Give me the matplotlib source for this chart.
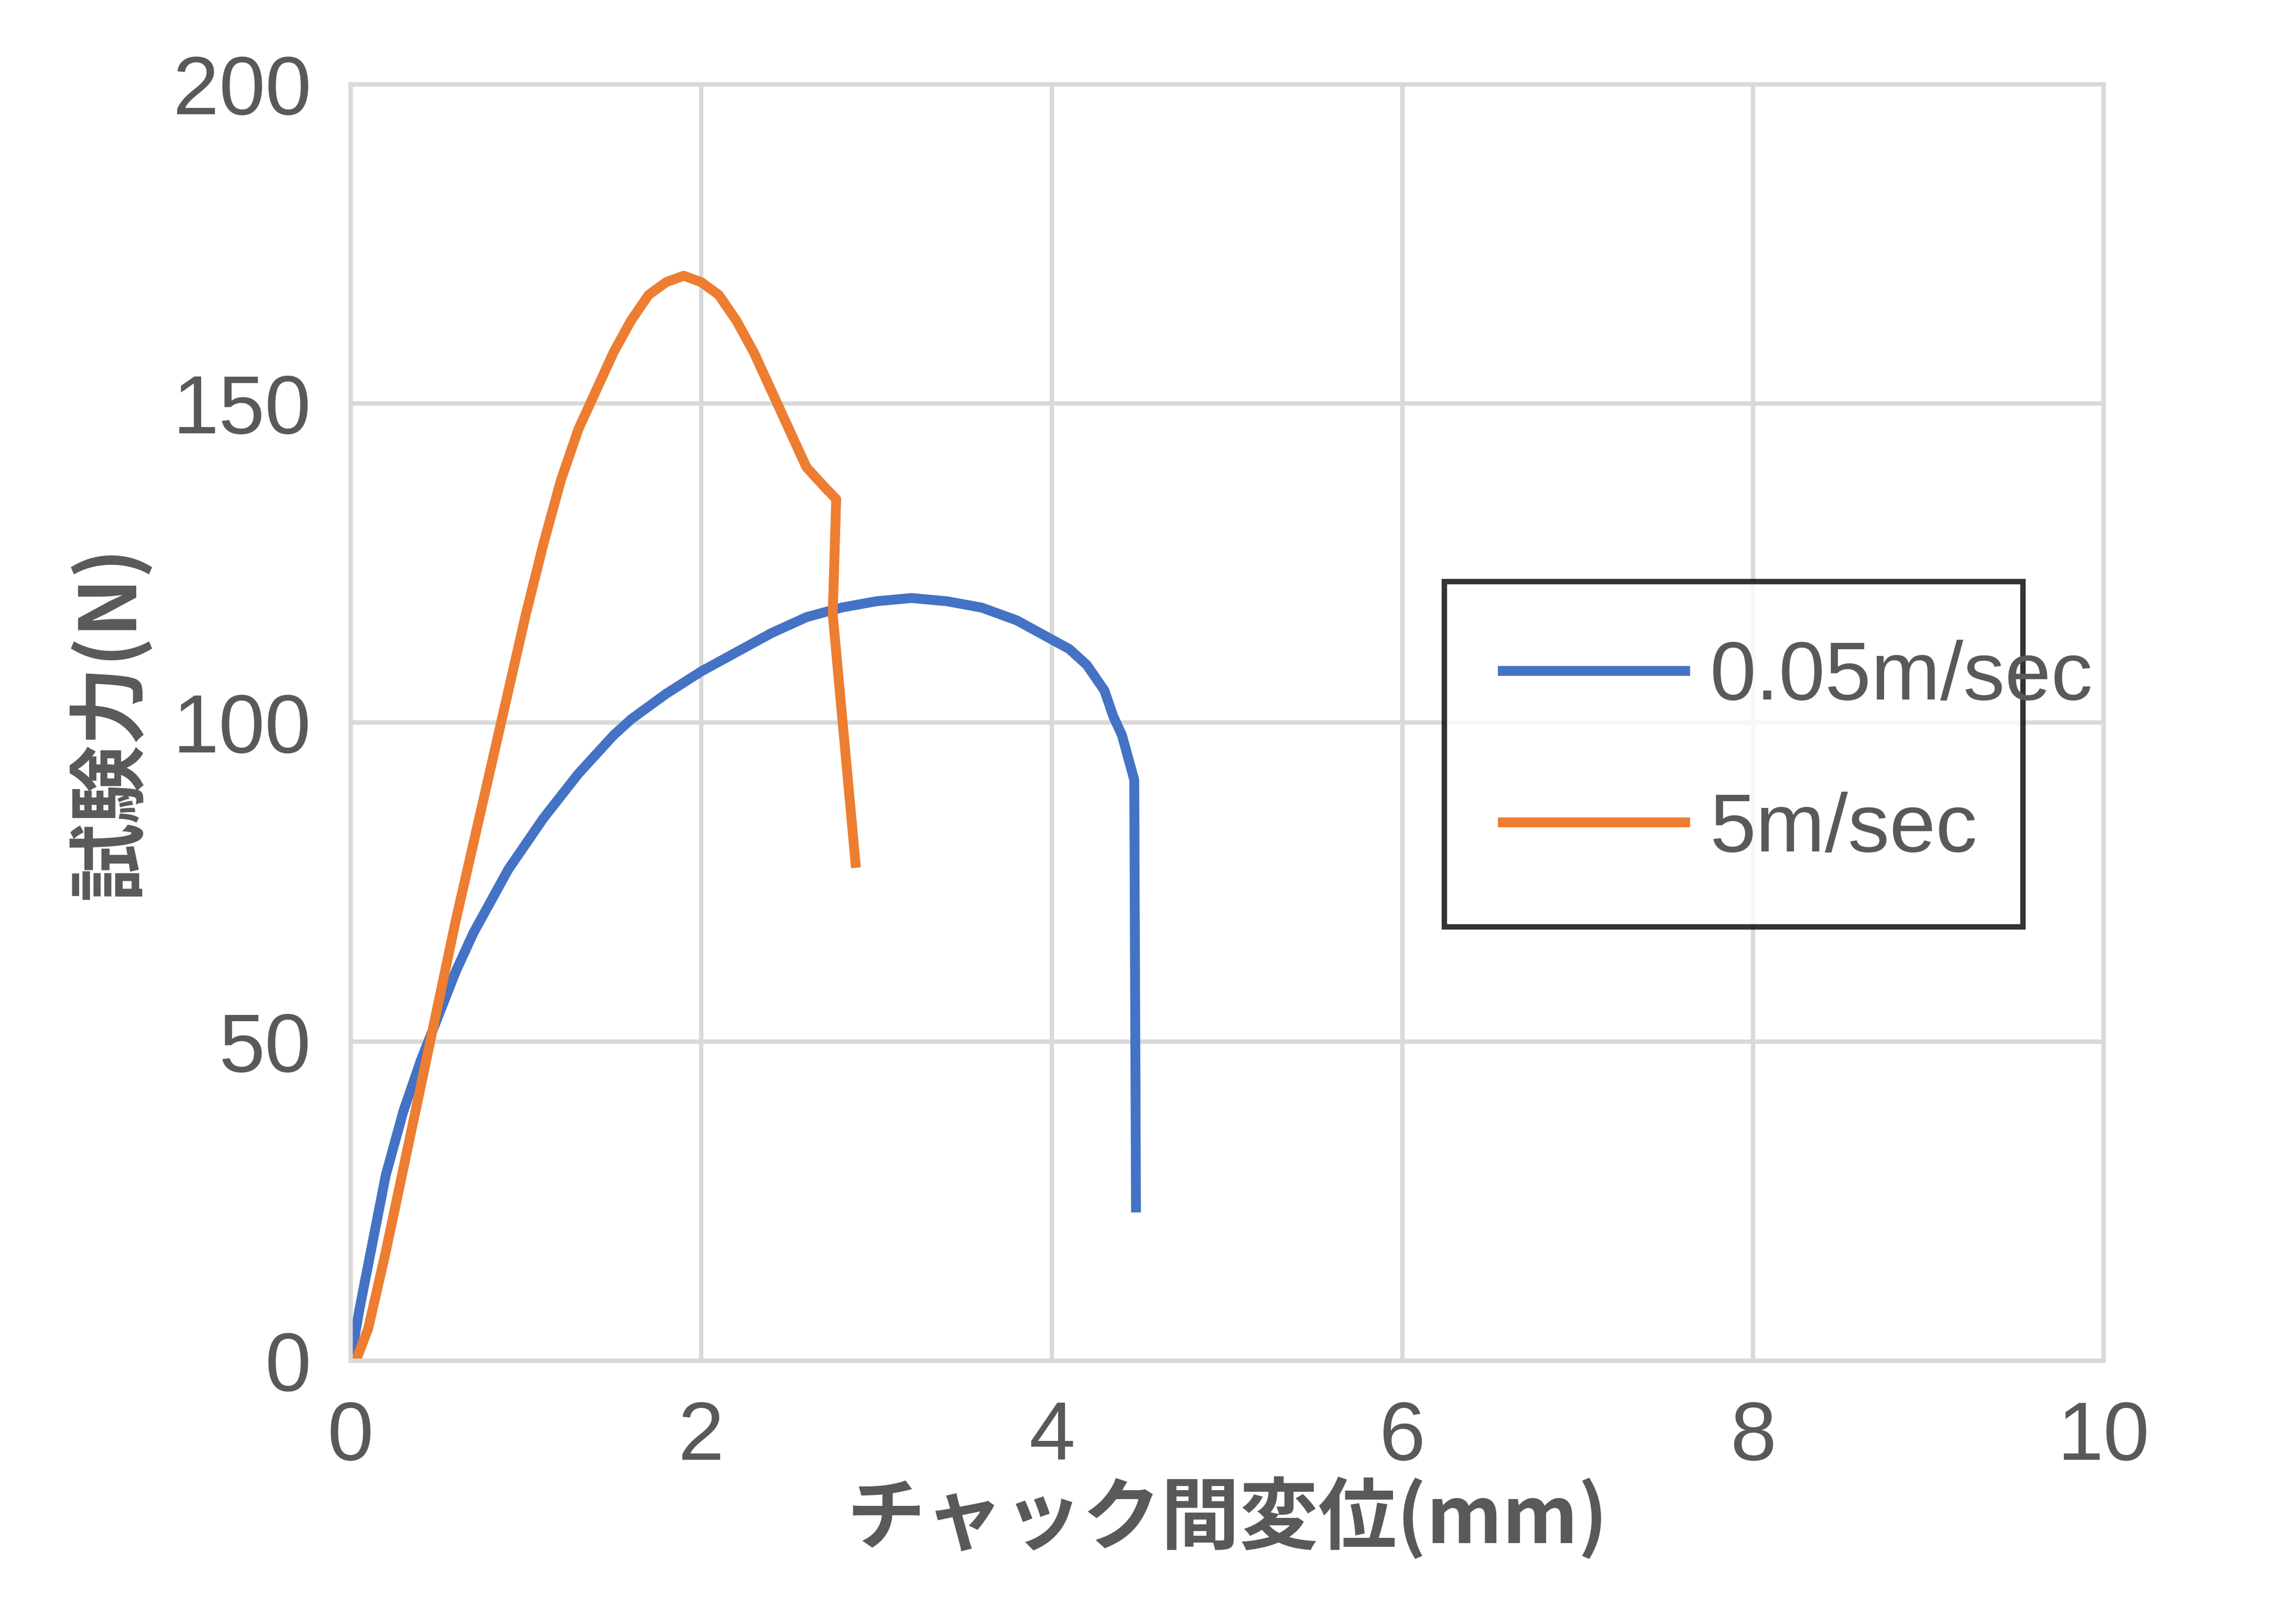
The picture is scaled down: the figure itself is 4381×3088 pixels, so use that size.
import matplotlib.pyplot as plt

# 0.05m/sec
blue_x = [0, 0.05, 0.1, 0.15, 0.2, 0.3, 0.4, 0.5, 0.6, 0.7, 0.8, 0.9, 1.0, 1.1, 1.2, 1.3, 1.4,
          1.5, 1.6, 1.8, 2.0, 2.2, 2.4, 2.6, 2.8, 3.0, 3.2, 3.4, 3.6, 3.8, 4.0, 4.1, 4.2,
          4.3, 4.35, 4.4, 4.45, 4.47, 4.48]
blue_y = [0, 8, 15, 22, 29, 39, 47, 54, 61, 67, 72, 77, 81, 85, 88.5, 92, 95,
          98, 100.5, 104.5, 108, 111, 114, 116.5, 118, 119, 119.5, 119, 118, 116, 113, 111.5, 109,
          105, 101, 98, 93, 91, 24]

# 5m/sec
orange_x = [0.03, 0.1, 0.2, 0.3, 0.4, 0.5, 0.6, 0.7, 0.8, 0.9, 1.0, 1.1, 1.2, 1.3, 1.4,
            1.5, 1.6, 1.7, 1.8, 1.9, 2.0, 2.1, 2.2, 2.3, 2.4, 2.5, 2.6, 2.7, 2.77, 2.75, 2.88]
orange_y = [0, 5, 17, 30, 43, 56, 69, 81, 93, 105, 117, 128, 138, 146, 152,
            158, 163, 167, 169, 170, 169, 167, 163, 158, 152, 146, 140, 137, 135, 117, 78]

text_c = '#595959'
plt.rcParams['font.family'] = 'Liberation Sans'
fig = plt.figure(figsize=(4381 / 300, 3088 / 300), dpi=300)
ax = fig.add_axes([237 / 1552, 1 - 920 / 1094, (1422 - 237) / 1552, (920 - 57) / 1094])

ax.plot(blue_x, blue_y, color='#4472C4', lw=4.5, label='0.05m/sec')
ax.plot(orange_x, orange_y, color='#ED7D31', lw=4.5, label='5m/sec')

ax.set_xlim(0, 10)
ax.set_ylim(0, 200)
ax.set_xticks([0, 2, 4, 6, 8, 10])
ax.set_yticks([0, 50, 100, 150, 200])
ax.grid(color='#D9D9D9', lw=2)
for s in ax.spines.values():
    s.set_color('#D9D9D9')
    s.set_linewidth(2)
ax.tick_params(length=0, labelsize=38, labelcolor=text_c, pad=18)

ax.set_xlabel('チャック間変位(mm)', fontsize=36, fontweight='bold', color=text_c,
              family='Noto Sans CJK JP', labelpad=0)
ax.set_ylabel('試験力(N)', fontsize=36, fontweight='bold', color=text_c,
              family='Noto Sans CJK JP', labelpad=10)

leg = ax.legend(loc='lower left', bbox_to_anchor=(0.624, 0.34, 0.33, 0.246), mode='expand',
                fontsize=38, frameon=True, fancybox=False, edgecolor='black',
                handlelength=2.2, handletextpad=0.3, labelspacing=0.9, borderaxespad=0,
                borderpad=0.7)
leg.get_frame().set_linewidth(2.5)
for t in leg.get_texts():
    t.set_color(text_c)

plt.savefig('out.png')
